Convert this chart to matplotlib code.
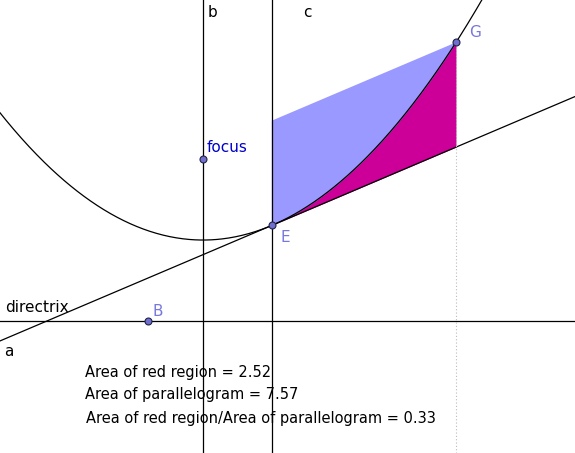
import numpy as np
import matplotlib.pyplot as plt

# parabola y = x^2/(4p) + p, focus (0, 2p), directrix y = 0
p = 1.6
x_E = 1.36
x_G = 5.0
x_B = -1.09
areas = ["Area of red region = 2.52",
         "Area of parallelogram = 7.57",
         "Area of red region/Area of parallelogram = 0.33"]

a = 1 / (4 * p)
f = lambda x: a * x ** 2 + p
slope_E = 2 * a * x_E
tan_E = lambda x: f(x_E) + slope_E * (x - x_E)
h = f(x_G) - tan_E(x_G)

fig = plt.figure(figsize=(5.75, 4.53), dpi=100)
ax = fig.add_axes([0, 0, 1, 1])
s = 50.6
ax.set_xlim(-203 / s, 372 / s)
ax.set_ylim(-132 / s, 321 / s)
ax.axis("off")

# parallelogram (blue)
px = [x_E, x_E, x_G, x_G]
py = [f(x_E), f(x_E) + h, f(x_G), tan_E(x_G)]
ax.fill(px, py, color="#9999ff", lw=0)
# red region between parabola and tangent
xs = np.linspace(x_E, x_G, 200)
ax.fill_between(xs, tan_E(xs), f(xs), color="#cc0099", lw=0)

xx = np.linspace(-5, 8, 600)
ax.plot(xx, f(xx), color="black", lw=0.9)
ax.plot(xx, tan_E(xx), color="black", lw=0.9)
ax.axhline(0, color="black", lw=0.9)
ax.axvline(0, color="black", lw=0.9)
ax.axvline(x_E, color="black", lw=0.9)
ax.plot([x_G, x_G], [f(x_G), -3], color="#bbbbbb", lw=0.8, ls=(0, (1, 2)))

pts = [(0, 2 * p), (x_E, f(x_E)), (x_G, f(x_G)), (x_B, 0)]
for x, y in pts:
    ax.plot(x, y, "o", ms=5, mfc="#6f6fd0", mec="#222244", mew=0.8)

def px2d(X, Y):
    return (X - 203) / s, (321 - Y) / s

kw = dict(fontsize=11, va="center", ha="left")
ax.text(*px2d(208, 12), "b", **kw)
ax.text(*px2d(303, 12), "c", **kw)
ax.text(*px2d(207, 148), "focus", color="#0000cc", **kw)
ax.text(*px2d(280, 238), "E", color="#7777dd", **kw)
ax.text(*px2d(469, 32), "G", color="#7777dd", **kw)
ax.text(*px2d(152, 311), "B", color="#7777dd", **kw)
ax.text(*px2d(5, 308), "directrix", **kw)
ax.text(*px2d(4, 352), "a", **kw)
for i, t in enumerate(areas):
    ax.text(*px2d(85 + (1 if i == 2 else 0), 372 + 23 * i), t, fontsize=10.5, va="center", ha="left")

fig.savefig("out.png")
